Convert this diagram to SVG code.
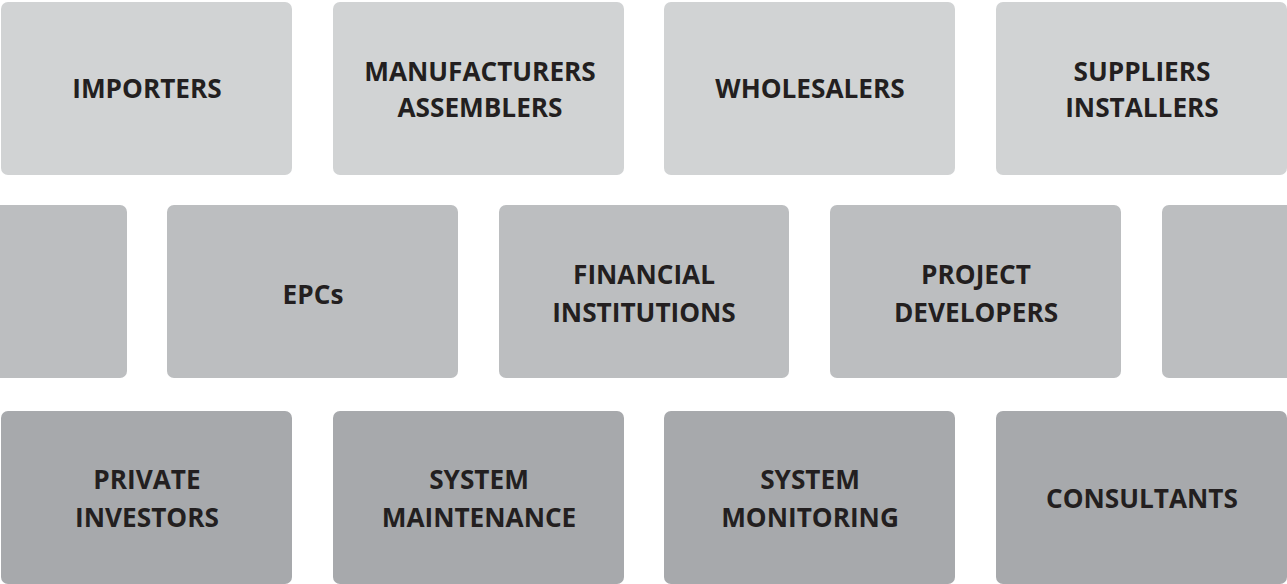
<svg xmlns="http://www.w3.org/2000/svg" width="1287" height="584" viewBox="0 0 1287 584">
<style>
.r1{fill:#d1d3d4}.r2{fill:#bcbec0}.r3{fill:#a7a9ac}
text{font-family:"Open Sans","Liberation Sans",sans-serif;font-weight:bold;font-size:26.2px;fill:#231f20;text-anchor:middle}
</style>
<rect width="1287" height="584" fill="#ffffff"/>
<g id="importers"><rect class="r1" x="1" y="2" width="291" height="173" rx="7"/><text x="147" y="98">IMPORTERS</text></g>
<g id="manufacturers"><rect class="r1" x="333" y="2" width="291" height="173" rx="7"/><text x="480" y="81">MANUFACTURERS</text><text x="480" y="117">ASSEMBLERS</text></g>
<g id="wholesalers"><rect class="r1" x="664" y="2" width="291" height="173" rx="7"/><text x="810" y="98">WHOLESALERS</text></g>
<g id="suppliers"><rect class="r1" x="996" y="2" width="291" height="173" rx="7"/><text x="1142" y="81">SUPPLIERS</text><text x="1142" y="117">INSTALLERS</text></g>
<g id="left-partial"><rect class="r2" x="-10" y="205" width="137" height="173" rx="7"/></g>
<g id="epcs"><rect class="r2" x="167" y="205" width="291" height="173" rx="7"/><text x="313" y="304">EPCs</text></g>
<g id="financial"><rect class="r2" x="499" y="205" width="290" height="173" rx="7"/><text x="644" y="284">FINANCIAL</text><text x="644" y="322">INSTITUTIONS</text></g>
<g id="project"><rect class="r2" x="830" y="205" width="291" height="173" rx="7"/><text x="976" y="284">PROJECT</text><text x="976" y="322">DEVELOPERS</text></g>
<g id="right-partial"><rect class="r2" x="1162" y="205" width="135" height="173" rx="7"/></g>
<g id="private"><rect class="r3" x="1" y="411" width="291" height="173" rx="7"/><text x="147" y="489">PRIVATE</text><text x="147" y="527">INVESTORS</text></g>
<g id="maintenance"><rect class="r3" x="333" y="411" width="291" height="173" rx="7"/><text x="479" y="489">SYSTEM</text><text x="479" y="527">MAINTENANCE</text></g>
<g id="monitoring"><rect class="r3" x="664" y="411" width="291" height="173" rx="7"/><text x="810" y="489">SYSTEM</text><text x="810" y="527">MONITORING</text></g>
<g id="consultants"><rect class="r3" x="996" y="411" width="291" height="173" rx="7"/><text x="1142" y="508">CONSULTANTS</text></g>
<g id="connectors"></g>
</svg>
